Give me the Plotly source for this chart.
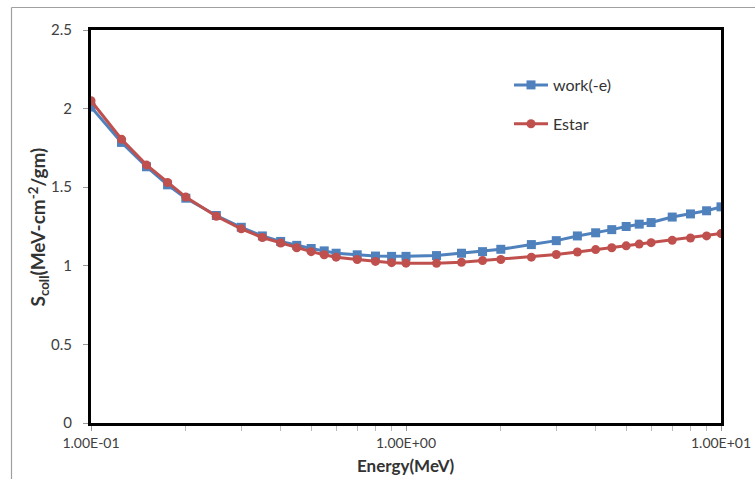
import plotly.graph_objects as go

energy = [0.1, 0.125, 0.15, 0.175, 0.2, 0.25, 0.3, 0.35, 0.4, 0.45, 0.5, 0.55, 0.6,
          0.7, 0.8, 0.9, 1.0, 1.25, 1.5, 1.75, 2.0, 2.5, 3.0, 3.5, 4.0, 4.5, 5.0,
          5.5, 6.0, 7.0, 8.0, 9.0, 10.0]
work_e = [2.01, 1.785, 1.63, 1.515, 1.43, 1.32, 1.245, 1.19, 1.155, 1.13, 1.11, 1.095,
          1.08, 1.07, 1.062, 1.06, 1.06, 1.065, 1.08, 1.09, 1.105, 1.135, 1.16, 1.19,
          1.21, 1.23, 1.25, 1.265, 1.275, 1.31, 1.33, 1.35, 1.375]
estar = [2.05, 1.805, 1.642, 1.53, 1.437, 1.315, 1.235, 1.18, 1.145, 1.115, 1.09, 1.07,
         1.055, 1.04, 1.028, 1.02, 1.017, 1.016, 1.022, 1.033, 1.04, 1.055, 1.072, 1.088,
         1.103, 1.115, 1.127, 1.138, 1.147, 1.162, 1.177, 1.19, 1.205]

x_tickvals = [0.1, 1.0, 10.0]
x_ticktext = ["1.00E-01", "1.00E+00", "1.00E+01"]
x_minor = [m * d for d in (0.1, 1.0) for m in range(2, 10)]
y_tickvals = [0, 0.5, 1, 1.5, 2, 2.5]
y_ticktext = ["0", "0.5", "1", "1.5", "2", "2.5"]

FONT = "Lato, 'Open Sans', sans-serif"

W, H = 755, 479
ML, MR, MT, MB = 91, 34, 30, 56
PW, PH = W - ML - MR, H - MT - MB   # 630 x 393


def px_x(x):  # page x -> paper
    return (x - ML) / PW


def px_y(y):  # page y -> paper
    return (H - MB - y) / PH


fig = go.Figure()
fig.add_trace(go.Scatter(x=energy, y=work_e, name="work(-e)", mode="lines+markers",
                         line=dict(color="#4F81BD", width=3),
                         marker=dict(symbol="square", size=9, color="#4F81BD"),
                         legendgroup="a"))
fig.add_trace(go.Scatter(x=energy, y=estar, name="Estar", mode="lines+markers",
                         line=dict(color="#C0504D", width=3),
                         marker=dict(symbol="circle", size=9, color="#C0504D"),
                         legendgroup="b"))

frame = dict(color="#a0a0a0", width=1.2)

fig.update_layout(
    width=W, height=H,
    margin=dict(l=ML, r=MR, t=MT, b=MB, autoexpand=False),
    paper_bgcolor="white", plot_bgcolor="white",
    font=dict(family=FONT, size=14, color="#404040"),
    showlegend=True,
    legend=dict(x=px_x(509), y=px_y(68), xanchor="left", yanchor="top",
                bgcolor="rgba(0,0,0,0)", tracegroupgap=15, itemwidth=34,
                font=dict(size=16, color="#333333")),
    xaxis=dict(type="log", range=[-1, 1], tickvals=x_tickvals, ticktext=x_ticktext,
               automargin=False,
               showgrid=False, zeroline=False, showline=True, linecolor="black",
               linewidth=3, mirror=True, ticks="outside", ticklen=5, tickcolor="#999",
               tickfont=dict(size=14, color="#404040"),
               minor=dict(tickvals=x_minor, ticks="outside", ticklen=5, tickcolor="#bbb")),
    yaxis=dict(range=[0, 2.5], tickvals=y_tickvals, ticktext=y_ticktext,
               automargin=False,
               showgrid=False, zeroline=False, showline=True, linecolor="black",
               linewidth=3, mirror=True, ticks="outside", ticklen=5, tickcolor="#999",
               ticklabelstandoff=8, tickfont=dict(size=15, color="#404040")),
    annotations=[
        dict(text="<b>Energy(MeV)</b>", xref="paper", yref="paper", x=px_x(406), y=px_y(466),
             xanchor="center", yanchor="middle", showarrow=False,
             font=dict(size=17, color="#333333")),
        dict(text="<b>S<sub>coll</sub>(MeV-cm<sup>-2</sup>/gm)</b>", xref="paper",
             yref="paper", x=px_x(38), y=0.5, textangle=-90, xanchor="center",
             yanchor="middle", showarrow=False, font=dict(size=19, color="#333333")),
    ],
    shapes=[
        dict(type="line", xref="paper", yref="paper",
             x0=px_x(11.5), x1=px_x(11.5), y0=px_y(7.5), y1=px_y(479),
             line=frame, layer="above"),
        dict(type="line", xref="paper", yref="paper",
             x0=px_x(11.5), x1=px_x(755), y0=px_y(7.5), y1=px_y(7.5),
             line=frame, layer="above"),
    ],
)

fig.write_html("out.html",
               config={"displayModeBar": False},
               post_script="document.body.style.margin='0';"
                           "document.body.style.overflow='hidden';")
